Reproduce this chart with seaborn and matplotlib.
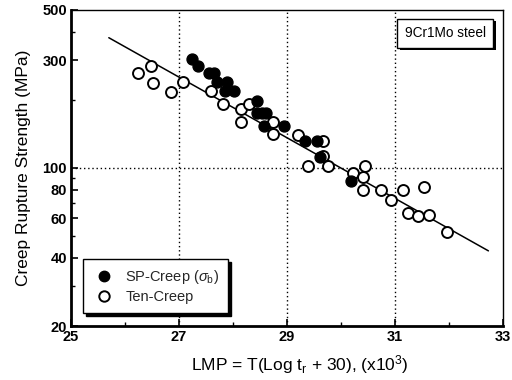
import matplotlib
matplotlib.use("Agg")
import matplotlib.pyplot as plt
import matplotlib.patheffects as pe
from matplotlib.lines import Line2D
from matplotlib.ticker import FixedLocator, NullFormatter
import seaborn as sns
import pandas as pd

# ---- data ----
sp_lmp = [27.24, 27.35, 27.56, 27.65, 27.70, 27.88, 27.85, 28.01, 28.44, 28.44,
          28.53, 28.62, 28.57, 28.94, 29.33, 29.55, 29.61, 30.18]
sp_strength = [303, 282, 262, 262, 241, 241, 220, 220, 198, 175,
               175, 175, 153, 153, 131, 131, 112, 88]

ten_lmp = [26.24, 26.48, 26.51, 26.85, 27.07, 27.59, 27.81, 28.14, 28.30, 28.14,
           28.74, 28.74, 29.21, 29.67, 29.67, 29.39, 29.76, 30.44, 30.23, 30.40,
           30.40, 30.75, 30.92, 31.14, 31.53, 31.24, 31.43, 31.63, 31.96]
ten_strength = [262, 282, 238, 217, 241, 220, 191, 182, 191, 160,
                160, 141, 140, 131, 113, 102, 102, 102, 95, 91,
                80, 80, 72, 80, 82, 63, 61.5, 62, 52]

fit_lmp = [25.70, 32.73]
fit_strength = [377, 43]

x_ticks = [25, 27, 29, 31, 33]
x_minor = [26, 28, 30, 32]
y_ticks = [20, 40, 60, 80, 100, 300, 500]
y_minor = [30, 50, 70, 90, 200, 400]

sp_df = pd.DataFrame({"LMP": sp_lmp, "S": sp_strength})
ten_df = pd.DataFrame({"LMP": ten_lmp, "S": ten_strength})
fit_df = pd.DataFrame({"LMP": fit_lmp, "S": fit_strength})

sns.set_theme(style="white")
plt.rcParams["font.family"] = ["Liberation Sans", "DejaVu Sans"]
plt.rcParams["mathtext.fontset"] = "custom"
plt.rcParams["mathtext.rm"] = "Liberation Sans"
plt.rcParams["mathtext.it"] = "Liberation Sans:italic"

fig = plt.figure(figsize=(5.12, 3.8), dpi=100)
ax = fig.add_axes([0.1387, 0.1421, 0.8437, 0.8316])

ax.set_yscale("log")
ax.set_xlim(25, 33)
ax.set_ylim(20, 500)

# grid (dotted)
for xv in [27, 29, 31]:
    ax.axvline(xv, color="black", linestyle=(0, (1, 2)), linewidth=1.0, zorder=1)
ax.axhline(100, color="black", linestyle=(0, (1, 2)), linewidth=1.0, zorder=1)

sns.lineplot(data=fit_df, x="LMP", y="S", ax=ax, color="black", linewidth=1.1,
             zorder=2, legend=False)
sns.scatterplot(data=ten_df, x="LMP", y="S", ax=ax, s=62, facecolor="white",
                edgecolor="black", linewidth=1.4, zorder=3, legend=False)
sns.scatterplot(data=sp_df, x="LMP", y="S", ax=ax, s=62, color="black",
                edgecolor="black", linewidth=1.0, zorder=4, legend=False)

ax.xaxis.set_major_locator(FixedLocator(x_ticks))
ax.xaxis.set_minor_locator(FixedLocator(x_minor))
ax.yaxis.set_major_locator(FixedLocator(y_ticks))
ax.yaxis.set_minor_locator(FixedLocator(y_minor))
ax.yaxis.set_minor_formatter(NullFormatter())
ax.set_xticklabels([str(v) for v in x_ticks])
ax.set_yticklabels([str(v) for v in y_ticks])
ax.tick_params(axis="both", which="both", direction="in", left=True, bottom=True,
               top=False, right=False, color="black")
ax.tick_params(axis="both", which="major", length=5, width=1.2, labelsize=10.5,
               pad=3)
ax.tick_params(axis="both", which="minor", length=3, width=1.0)
for lab in ax.get_xticklabels() + ax.get_yticklabels():
    lab.set_fontweight("bold")
    lab.set_color("black")

for side in ["left", "bottom"]:
    ax.spines[side].set_linewidth(2.0)
    ax.spines[side].set_color("black")
for side in ["top", "right"]:
    ax.spines[side].set_linewidth(1.0)
    ax.spines[side].set_color("black")

ax.set_xlabel(r"LMP = T(Log t$_\mathrm{r}$ + 30), (x10$^\mathrm{3}$)", fontsize=12.5,
              color="black", labelpad=6)
ax.xaxis.set_label_coords(0.53, -0.085, transform=ax.transAxes)
ax.xaxis.label.set_va("top")
ax.set_ylabel("Creep Rupture Strength (MPa)", fontsize=12.5, color="black",
              labelpad=8)

handles = [
    Line2D([], [], marker="o", linestyle="none", markerfacecolor="black",
           markeredgecolor="black", markersize=7.5),
    Line2D([], [], marker="o", linestyle="none", markerfacecolor="white",
           markeredgecolor="black", markeredgewidth=1.4, markersize=7.5),
]
leg = ax.legend(handles, [r"SP-Creep ($\sigma_\mathrm{b}$)", "Ten-Creep"],
                loc="lower left", bbox_to_anchor=(0.028, 0.041), borderaxespad=0,
                fontsize=10.5, frameon=True, fancybox=False, edgecolor="black",
                handletextpad=0.7, borderpad=0.6, labelspacing=0.3,
                handlelength=1.6,
                shadow={"color": "black", "alpha": 1})
leg.get_frame().set_linewidth(1.0)
leg.set_zorder(6)

t = ax.text(0.866, 0.927, "9Cr1Mo steel", transform=ax.transAxes, ha="center",
            va="center", fontsize=9.8, color="black", zorder=6,
            bbox=dict(boxstyle="square,pad=0.55", facecolor="white",
                      edgecolor="black", linewidth=1.0))
t.get_bbox_patch().set_path_effects([
    pe.SimplePatchShadow(offset=(2, -2), shadow_rgbFace="black", alpha=1),
    pe.Normal()])

fig.savefig("out.png", dpi=100)
